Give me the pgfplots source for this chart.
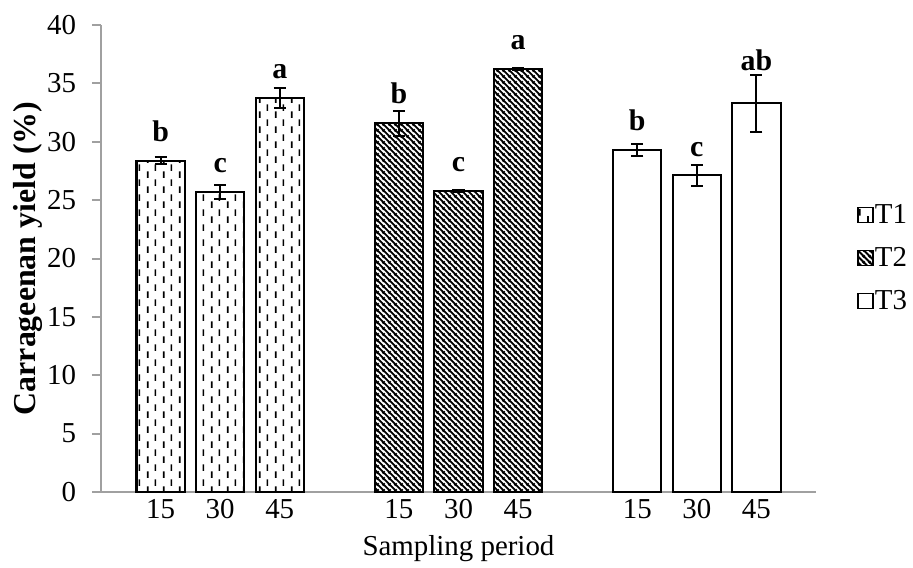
\documentclass[border=0pt]{standalone}
\usepackage{fontspec}
\setmainfont{Liberation Serif}
\usepackage{pgfplots}
\pgfplotsset{compat=1.18}
\usetikzlibrary{patterns}
\definecolor{AxisGray}{HTML}{A0A0A0}

% dashed vertical (T1)
\pgfdeclarepatternformonly{vdashes}{\pgfpointorigin}{\pgfpoint{8bp}{7.5bp}}{\pgfpoint{8bp}{7.5bp}}{%
  \pgfsetlinewidth{0.9bp}%
  \pgfpathmoveto{\pgfpoint{2bp}{0bp}}\pgfpathlineto{\pgfpoint{2bp}{3.5bp}}%
  \pgfpathmoveto{\pgfpoint{6bp}{3.75bp}}\pgfpathlineto{\pgfpoint{6bp}{7.25bp}}%
  \pgfusepath{stroke}}
% dense downward diagonal (T2)
\pgfdeclarepatternformonly{dstripes}{\pgfpointorigin}{\pgfpoint{3bp}{3bp}}{\pgfpoint{3bp}{3bp}}{%
  \pgfsetlinewidth{1.05bp}%
  \pgfpathmoveto{\pgfpoint{-0.5bp}{3.5bp}}\pgfpathlineto{\pgfpoint{3.5bp}{-0.5bp}}%
  \pgfpathmoveto{\pgfpoint{-0.5bp}{0.5bp}}\pgfpathlineto{\pgfpoint{0.5bp}{-0.5bp}}%
  \pgfpathmoveto{\pgfpoint{2.5bp}{3.5bp}}\pgfpathlineto{\pgfpoint{3.5bp}{2.5bp}}%
  \pgfusepath{stroke}}

\begin{document}
\begin{tikzpicture}
  \begin{axis}[
      name=ax,
      scale only axis,
      width=357.5bp, height=233.5bp,
      xmin=0, xmax=12,
      ymin=0, ymax=40,
      ybar, bar width=0.81, bar shift=0pt,
      axis x line*=bottom, axis y line*=left,
      axis line style={draw=AxisGray, line width=1bp},
      xtick={1,2,3,5,6,7,9,10,11},
      xticklabels={15,30,45,15,30,45,15,30,45},
      ytick={0,5,...,40},
      tick align=outside,
      major tick length=4.5bp,
      major x tick style={draw=none},
      major y tick style={draw=AxisGray, line width=1bp},
      /pgf/number format/assume math mode=true,
      ticklabel style={font=\fontsize{14.5}{14.5}\selectfont},
      xticklabel style={yshift=4.5bp},
      yticklabel style={xshift=-4.5bp},
      xlabel={Sampling period},
      xlabel style={at={(axis description cs:0.5,-0.1349)}, anchor=base, font=\fontsize{14.5}{14.5}\selectfont},
      ylabel={Carrageenan yield (\%)},
      ylabel style={at={(axis description cs:-0.0912,0.5)}, anchor=base, font=\bfseries\fontsize{16}{16}\selectfont},
      point meta=explicit symbolic,
      nodes near coords,
      every node near coord/.append style={inner sep=0pt, yshift=9bp, black, font=\bfseries\fontsize{15}{15}\selectfont},
      error bars/y dir=both,
      error bars/y explicit,
      error bars/error bar style={black, line width=1bp},
      error bars/error mark options={rotate=90, black, line width=1bp, mark size=3bp},
      legend image code/.code={\draw[#1, line width=0.8bp] (0bp,-3.5bp) rectangle (7.5bp,4bp);},
      legend cell align=left,
      legend style={at={(axis description cs:1.0573,0.5)}, anchor=west, draw=none, fill=none,
        inner sep=0pt, row sep=9.5bp, nodes={inner sep=0.5bp},
        font=\fontsize{14.5}{14.5}\selectfont},
    ]
    \addplot[draw=black, line width=1.1bp, pattern=vdashes, pattern color=black]
      coordinates {
        (1,28.38) +- (0,0.30) [b]
        (2,25.67) +- (0,0.60) [c]
        (3,33.72) +- (0,0.85) [a]
      };
    \addlegendentry{T1}
    \addplot[draw=black, line width=1.1bp, pattern=dstripes, pattern color=black]
      coordinates {
        (5,31.58) +- (0,1.07) [b]
        (6,25.80) +- (0,0.10) [c]
        (7,36.23) +- (0,0.08) [a]
      };
    \addlegendentry{T2}
    \addplot[draw=black, line width=1bp, fill=white]
      coordinates {
        (9,29.29) +- (0,0.53) [b]
        (10,27.12) +- (0,0.87) [c]
        (11,33.29) +- (0,2.47) [\raisebox{6.8bp}{ab}]
      };
    \addlegendentry{T3}
  \end{axis}
  \path ([shift={(-50.5bp,-36.5bp)}]ax.south west) rectangle ([shift={(48.5bp,12.5bp)}]ax.north east);
\end{tikzpicture}
\end{document}
